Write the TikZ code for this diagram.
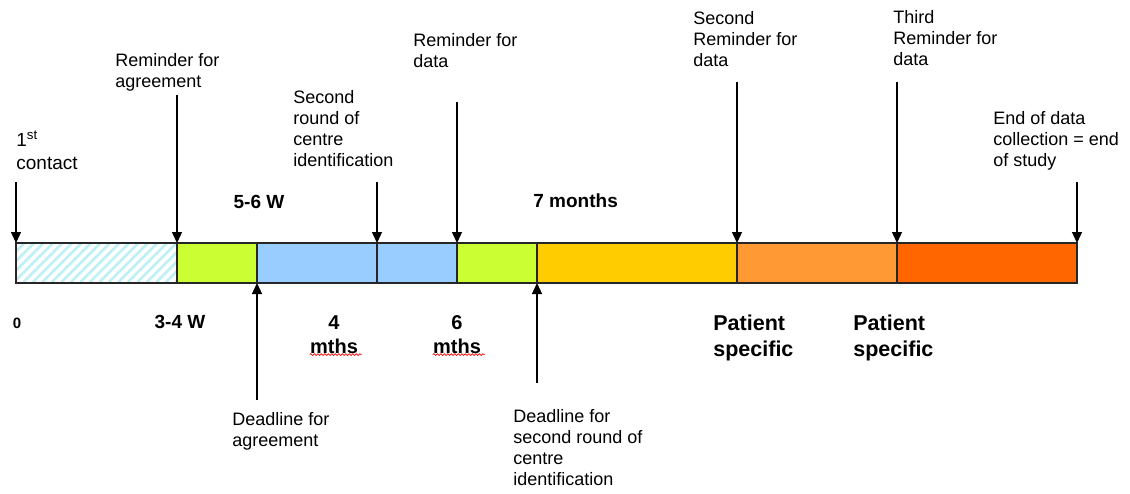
\documentclass[tikz,border=0pt]{standalone}
\usepackage{fontspec}
\setmainfont{Liberation Sans}
\usetikzlibrary{arrows.meta,decorations.pathmorphing}

\definecolor{hatchcyan}{RGB}{190,240,245}
\definecolor{limegreen}{RGB}{204,255,51}
\definecolor{skyblue}{RGB}{153,204,255}
\definecolor{gold}{RGB}{255,204,0}
\definecolor{lightorange}{RGB}{255,153,51}
\definecolor{deeporange}{RGB}{255,102,0}

\tikzset{every picture/.style={line width=0.75pt}}
\tikzset{
  seg/.style={draw=black!85, line width=1.5pt, minimum height=40pt, inner sep=0pt, outer sep=0pt, anchor=north west},
  pin/.style={line width=1.3pt, -{Triangle[length=11pt,width=10pt]}},
  lbl/.style={font=\fontsize{18}{21}\selectfont, align=left, anchor=base west, inner sep=0pt},
  big/.style={font=\bfseries\fontsize{19}{24}\selectfont, align=center, anchor=base, inner sep=0pt},
  spell/.style={red, line width=0.7pt, decorate, decoration={snake, amplitude=0.9pt, segment length=3.5pt}}
}

\begin{document}
\begin{tikzpicture}[x=1pt,y=1pt,yscale=-1,xscale=1]
\useasboundingbox (0,0) rectangle (1130,493);

%Hatched start of the bar
\begin{scope}
\clip (16,243) rectangle (177,282);
\foreach \i in {-40,-30.5,...,170}
  \draw [hatchcyan, line width=2.5pt] (16+\i,282) -- (56+\i,242);
\end{scope}

%Shape: Bar segments
\node [seg, minimum width=161pt] (seg0) at (16,243) {};
\node [seg, fill=limegreen, minimum width=80pt] (seg1) at (177,243) {};
\node [seg, fill=skyblue, minimum width=120pt] (seg2) at (257,243) {};
\node [seg, fill=skyblue, minimum width=80pt] (seg3) at (377,243) {};
\node [seg, fill=limegreen, minimum width=80pt] (seg4) at (457,243) {};
\node [seg, fill=gold, minimum width=200pt] (seg5) at (537,243) {};
\node [seg, fill=lightorange, minimum width=160pt] (seg6) at (737,243) {};
\node [seg, fill=deeporange, minimum width=180pt] (seg7) at (897,243) {};

%Arrow tails
\coordinate (c0) at (16,182);
\coordinate (c1) at (177,95);
\coordinate (c2) at (377,182);
\coordinate (c3) at (457,102);
\coordinate (c4) at (737,82);
\coordinate (c5) at (897,82);
\coordinate (c6) at (1077,182);
\coordinate (d1) at (257,400);
\coordinate (d2) at (537,383);

%Straight Lines
\draw [pin] (c0) -- (seg0.north west);
\draw [pin] (c1) -- (seg1.north west);
\draw [pin] (c2) -- (seg3.north west);
\draw [pin] (c3) -- (seg4.north west);
\draw [pin] (c4) -- (seg6.north west);
\draw [pin] (c5) -- (seg7.north west);
\draw [pin] (c6) -- (seg7.north east);
\draw [pin] (d1) -- (seg2.south west);
\draw [pin] (d2) -- (seg5.south west);

% Text Node (base = last line)
\node [lbl, font=\fontsize{19}{23}\selectfont] (first) at (16,169) {1\textsuperscript{st}\\contact};
\node [lbl] (remagr) at (115,87) {Reminder for\\agreement};
\node [lbl] (round) at (293,166) {Second\\round of\\centre\\identification};
\node [lbl] (remdata) at (413,67) {Reminder for\\data};
\node [lbl] (remdatab) at (693,66) {Second\\Reminder for\\data};
\node [lbl] (remdatac) at (893,65) {Third\\Reminder for\\data};
\node [lbl] (endstudy) at (993,166) {End of data\\collection = end\\of study};
\node [lbl] (dlagr) at (232,446) {Deadline for\\agreement};
\node [lbl] (dlround) at (513,485) {Deadline for\\second round of\\centre\\identification};

% Text Node
\node [big] (w56) at (259,208) {5-6 W};
\node [big, anchor=base west] (m7) at (533,207) {7 months};
\node [big, font=\bfseries\fontsize{15}{18}\selectfont] (zero) at (17,328) {0};
\node [big] (w34) at (180,328) {3-4 W};
\node [big, font=\bfseries\fontsize{20}{24}\selectfont] (m4) at (334,353) {4\\mths};
\node [big, font=\bfseries\fontsize{20}{24}\selectfont] (m6) at (457,353) {6\\mths};
\node [big, align=left, anchor=base west, font=\bfseries\fontsize{21.5}{26}\selectfont] (pat1) at (713,356) {Patient\\specific};
\node [big, align=left, anchor=base west, font=\bfseries\fontsize{21.5}{26}\selectfont] (pat2) at (853,356) {Patient\\specific};

%Spelling marks
\draw [spell] (m4.south west) ++(0,1) -- ++(52,0);
\draw [spell] (m6.south west) ++(0,1) -- ++(52,0);

\end{tikzpicture}
\end{document}
